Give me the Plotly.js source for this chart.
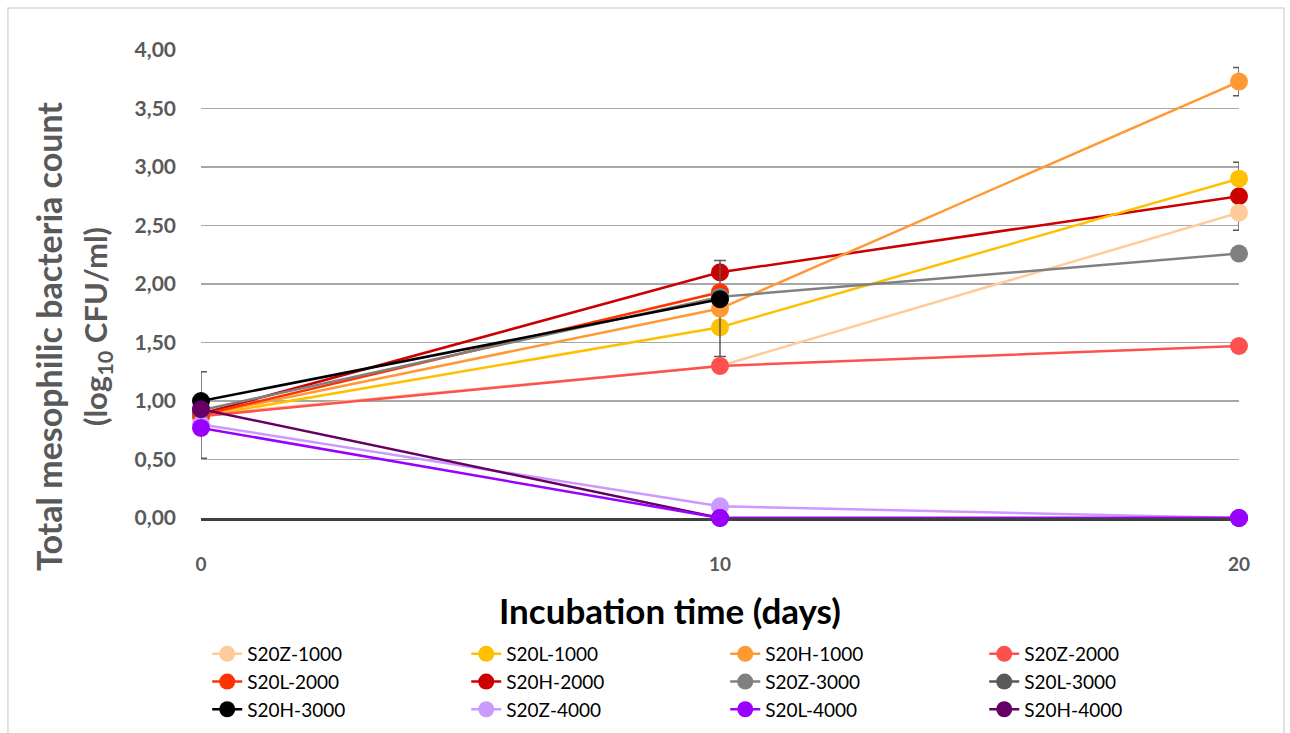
<!DOCTYPE html>
<html>
<head>
<meta charset="utf-8">
<script src="https://cdn.plot.ly/plotly-3.0.1.min.js"></script>
<style>
  html, body { margin: 0; padding: 0; background: #ffffff; }
  #chart { width: 1290px; height: 733px; }
</style>
</head>
<body>
<div id="chart"></div>
<script>
// Incubation days
const days = [0, 10, 20];

// Series names, in legend order
const seriesNames = [
  'S20Z-1000', 'S20L-1000', 'S20H-1000', 'S20Z-2000',
  'S20L-2000', 'S20H-2000', 'S20Z-3000', 'S20L-3000',
  'S20H-3000', 'S20Z-4000', 'S20L-4000', 'S20H-4000'
];

// log10 CFU/ml per series (null = not measured)
const s20z1000 = [0.88, 1.30, 2.61];
const s20l1000 = [0.87, 1.63, 2.90];
const s20h1000 = [0.88, 1.79, 3.73];
const s20z2000 = [0.87, 1.30, 1.47];
const s20l2000 = [0.88, 1.93, null];
const s20h2000 = [0.89, 2.10, 2.75];
const s20z3000 = [0.92, 1.89, 2.26];
const s20l3000 = [null, null, null];
const s20h3000 = [1.00, 1.87, null];
const s20z4000 = [0.80, 0.10, 0.00];
const s20l4000 = [0.77, 0.00, 0.00];
const s20h4000 = [0.93, 0.00, 0.00];

// Standard deviations (only where an error bar is shown)
const errZ1000 = [0.37, 0, 0];
const errH1000 = [0, 0.41, 0.12];
const errH2000 = [0, 0, 0.29];

// Series colours
const seriesColors = [
  '#FFCC99', '#FFC000', '#FF9933', '#FF5050',
  '#FF3300', '#CC0000', '#808080', '#595959',
  '#000000', '#CC99FF', '#9900FF', '#660066'
];

const seriesValues = [
  s20z1000, s20l1000, s20h1000, s20z2000,
  s20l2000, s20h2000, s20z3000, s20l3000,
  s20h3000, s20z4000, s20l4000, s20h4000
];
const seriesErrors = {0: errZ1000, 2: errH1000, 5: errH2000};

// Drawing order (later ones on top); legend order kept by legendrank
const drawOrder = [5, 0, 1, 2, 3, 4, 6, 7, 8, 9, 11, 10];

const FONT = 'Lato, "Open Sans", sans-serif';

const traces = drawOrder.map(function (i) {
  const t = {
    type: 'scatter',
    mode: 'lines+markers',
    name: seriesNames[i],
    x: days,
    y: seriesValues[i],
    legendrank: i + 1,
    cliponaxis: false,
    line: { color: seriesColors[i], width: 2.5 },
    marker: { color: seriesColors[i], size: 18 },
    hoverinfo: 'name+x+y'
  };
  if (seriesErrors[i]) {
    t.error_y = {
      type: 'data',
      array: seriesErrors[i],
      visible: true,
      color: '#595959',
      thickness: 1.5,
      width: 6
    };
  }
  return t;
});

const layout = {
  width: 1290,
  height: 733,
  paper_bgcolor: '#ffffff',
  plot_bgcolor: '#ffffff',
  separators: ', ',
  margin: { l: 201, r: 51, t: 50, b: 215, pad: 0, autoexpand: false },
  showlegend: true,
  font: { family: FONT, color: '#595959' },
  xaxis: {
    range: [0, 20],
    tickvals: days,
    ticktext: days.map(String),
    showgrid: false,
    zeroline: false,
    showline: true,
    linecolor: '#404040',
    linewidth: 3,
    ticks: '',
    ticklabelstandoff: 27,
    layer: 'below traces',
    automargin: false,
    tickfont: { family: FONT, size: 19, color: '#595959', weight: 'bold' }
  },
  yaxis: {
    range: [0, 4],
    dtick: 0.5,
    tick0: 0,
    tickformat: '.2f',
    showgrid: true,
    gridcolor: '#A8A8A8',
    gridwidth: 1.5,
    zeroline: false,
    showline: false,
    ticks: '',
    ticklabelstandoff: 24,
    layer: 'below traces',
    automargin: false,
    tickfont: { family: FONT, size: 21, color: '#595959', weight: 'bold' }
  },
  legend: {
    orientation: 'h',
    x: 0.006,
    xanchor: 'left',
    y: -0.25,
    yanchor: 'top',
    entrywidth: 214,
    entrywidthmode: 'pixels',
    traceorder: 'normal',
    font: { family: FONT, size: 19, color: '#000000' },
    bgcolor: 'rgba(0,0,0,0)',
    borderwidth: 0
  },
  annotations: [
    {
      text: 'Total mesophilic bacteria count',
      xref: 'paper', yref: 'paper',
      x: -0.1464, y: 0.387,
      xanchor: 'center', yanchor: 'middle',
      textangle: -90,
      showarrow: false,
      font: { family: FONT, size: 34, color: '#595959', weight: 'bold' }
    },
    {
      text: '(log<sub>10</sub> CFU/ml)',
      xref: 'paper', yref: 'paper',
      x: -0.1002, y: 0.41,
      xanchor: 'center', yanchor: 'middle',
      textangle: -90,
      showarrow: false,
      font: { family: FONT, size: 31, color: '#595959', weight: 'bold' }
    },
    {
      text: 'Incubation time (days)',
      xref: 'paper', yref: 'paper',
      x: 0.4518, y: -0.1966,
      xanchor: 'center', yanchor: 'middle',
      showarrow: false,
      font: { family: FONT, size: 35, color: '#000000', weight: 'bold' }
    }
  ],
  shapes: [
    {
      type: 'rect',
      xref: 'paper', yref: 'paper',
      x0: -0.186, x1: 1.0434,
      y0: -0.48, y1: 1.0897,
      line: { color: '#D9D9D9', width: 1.5 },
      fillcolor: 'rgba(0,0,0,0)',
      layer: 'below'
    }
  ]
};

Plotly.newPlot('chart', traces, layout, { displayModeBar: false, staticPlot: true });
</script>
</body>
</html>
